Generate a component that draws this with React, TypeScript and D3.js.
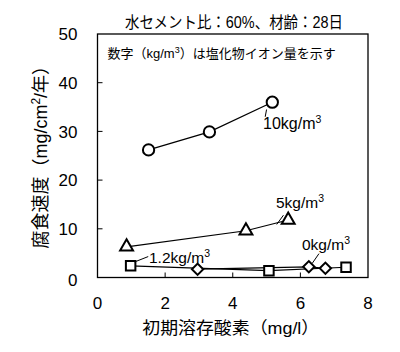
import React, { useEffect, useRef } from "react";
import * as d3 from "d3";

// values
const oxygen10 = [1.51, 3.31, 5.17];
const rate10 = [26.2, 29.9, 36.0];
const oxygen5 = [0.86, 4.39, 5.64];
const rate5 = [6.3, 9.6, 11.8];
const oxygen12 = [0.98, 5.07, 7.35];
const rate12 = [2.4, 1.4, 2.1];
const oxygen0 = [2.96, 6.25, 6.74];
const rate0 = [1.7, 2.2, 1.9];

const xTicks = [0, 2, 4, 6, 8];
const yTicks = [0, 10, 20, 30, 40, 50];

const WIDTH = 400;
const HEIGHT = 352;
const FONT = "'Liberation Sans', Arial, 'Noto Sans CJK JP', sans-serif";

const App: React.FC = () => {
  const ref = useRef<SVGSVGElement>(null);

  useEffect(() => {
    if (!ref.current) return;
    const svg = d3.select(ref.current);
    svg.selectAll("*").remove();

    const margin = { top: 34, right: 32, bottom: 74.5, left: 97.5 };
    const width = WIDTH - margin.left - margin.right;
    const height = HEIGHT - margin.top - margin.bottom;

    const x = d3.scaleLinear().domain([0, 8]).range([0, width]);
    const y = d3.scaleLinear().domain([0, 50]).range([height, 0]);

    const g = svg
      .append("g")
      .attr("transform", `translate(${margin.left},${margin.top})`);

    // frame
    g.append("rect")
      .attr("x", 0)
      .attr("y", 0)
      .attr("width", width)
      .attr("height", height)
      .attr("fill", "none")
      .attr("stroke", "#000")
      .attr("stroke-width", 1.3);

    // inside ticks
    g.selectAll("line.xt")
      .data(xTicks.slice(1, -1))
      .enter()
      .append("line")
      .attr("x1", (d) => x(d))
      .attr("x2", (d) => x(d))
      .attr("y1", height)
      .attr("y2", height - 5)
      .attr("stroke", "#000");

    g.selectAll("line.yt")
      .data(yTicks.slice(1, -1))
      .enter()
      .append("line")
      .attr("y1", (d) => y(d))
      .attr("y2", (d) => y(d))
      .attr("x1", 0)
      .attr("x2", 5)
      .attr("stroke", "#000");

    // tick labels
    g.selectAll("text.xl")
      .data(xTicks)
      .enter()
      .append("text")
      .attr("x", (d) => x(d))
      .attr("y", height + 31)
      .attr("text-anchor", "middle")
      .style("font-family", FONT)
      .style("font-size", "17px")
      .text((d) => d);

    g.selectAll("text.yl")
      .data(yTicks)
      .enter()
      .append("text")
      .attr("x", -20)
      .attr("y", (d) => (d === 0 ? y(d) + 2 : y(d)))
      .attr("dy", "0.36em")
      .attr("text-anchor", "end")
      .style("font-family", FONT)
      .style("font-size", "17px")
      .text((d) => d);

    // axis titles
    g.append("text")
      .attr("x", width / 2 - 2)
      .attr("y", height + 56)
      .attr("text-anchor", "middle")
      .attr("textLength", 177)
      .attr("lengthAdjust", "spacingAndGlyphs")
      .style("font-family", FONT)
      .style("font-size", "17px")
      .text("初期溶存酸素（mg/l）");

    const yTitle = g
      .append("text")
      .attr("transform", `translate(-51,${height / 2 - 3}) rotate(-90)`)
      .attr("text-anchor", "middle")
      .style("font-family", FONT)
      .style("font-size", "18px");
    yTitle.append("tspan").text("腐食速度（mg/cm");
    yTitle.append("tspan").attr("dy", -7).style("font-size", "12px").text("2");
    yTitle.append("tspan").attr("dy", 7).text("/年）");

    // title
    svg.append("text")
      .attr("x", 234)
      .attr("y", 28)
      .attr("text-anchor", "middle")
      .attr("textLength", 218)
      .attr("lengthAdjust", "spacingAndGlyphs")
      .style("font-family", FONT)
      .style("font-size", "16px")
      .text("水セメント比：60%、材齢：28日");

    const note = g
      .append("text")
      .attr("x", 10)
      .attr("y", 24)
      .style("font-family", FONT)
      .style("font-size", "13px");
    note.append("tspan").text("数字（kg/m");
    note.append("tspan").attr("dy", -5).style("font-size", "9px").text("3");
    note.append("tspan").attr("dy", 5).text("）は塩化物イオン量を示す");

    const line = d3
      .line<[number, number]>()
      .x((d) => x(d[0]))
      .y((d) => y(d[1]));

    const series = [
      { xs: oxygen0, ys: rate0, shape: "diamond" },
      { xs: oxygen12, ys: rate12, shape: "square" },
      { xs: oxygen5, ys: rate5, shape: "triangle" },
      { xs: oxygen10, ys: rate10, shape: "circle" },
    ];

    const symbolFor: Record<string, d3.SymbolType> = {
      diamond: d3.symbolSquare,
      square: d3.symbolSquare,
      triangle: d3.symbolTriangle,
      circle: d3.symbolCircle,
    };
    const sizeFor: Record<string, number> = {
      diamond: 64,
      square: 90,
      triangle: 72,
      circle: 100,
    };

    series.forEach((s) => {
      const pts = s.xs.map((v, i) => [v, s.ys[i]] as [number, number]);
      g.append("path")
        .datum(pts)
        .attr("fill", "none")
        .attr("stroke", "#000")
        .attr("stroke-width", 1.2)
        .attr("d", line);
    });

    series.forEach((s) => {
      const pts = s.xs.map((v, i) => [v, s.ys[i]] as [number, number]);
      g.selectAll(null)
        .data(pts)
        .enter()
        .append("path")
        .attr(
          "transform",
          (d) =>
            `translate(${x(d[0])},${y(d[1])})` +
            (s.shape === "diamond" ? " rotate(45)" : "")
        )
        .attr("d", d3.symbol().type(symbolFor[s.shape]).size(sizeFor[s.shape])())
        .attr("fill", "#fff")
        .attr("stroke", "#000")
        .attr("stroke-width", 2);
    });

    // series labels with leader lines
    // leader endpoints in data units; text anchored in page pixels
    const labels = [
      { text: "10kg/m", at: [5.0, 34.5], to: [4.96, 33.0], tx: [263, 129], size: 16 },
      { text: "5kg/m", at: [5.3, 10.9], to: [5.5, 12.8], tx: [276, 208], size: 15.5 },
      { text: "1.2kg/m", at: [1.1, 3.2], to: [1.5, 4.3], tx: [149, 263], size: 15.5 },
      { text: "0kg/m", at: [6.35, 2.9], to: [6.55, 4.9], tx: [302, 250], size: 15.5 },
    ];
    labels.forEach((l) => {
      g.append("line")
        .attr("x1", x(l.at[0]))
        .attr("y1", y(l.at[1]))
        .attr("x2", x(l.to[0]))
        .attr("y2", y(l.to[1]))
        .attr("stroke", "#000")
        .attr("stroke-width", 1);
      const t = svg
        .append("text")
        .attr("x", l.tx[0])
        .attr("y", l.tx[1])
        .style("font-family", FONT)
        .style("font-size", `${l.size}px`);
      t.append("tspan").text(l.text);
      t.append("tspan").attr("dy", -6).style("font-size", "10.5px").text("3");
    });
  }, []);

  return (
    <svg
      ref={ref}
      width={WIDTH}
      height={HEIGHT}
      style={{ position: "absolute", left: 0, top: 0, background: "#fff" }}
    />
  );
};

export default App;
